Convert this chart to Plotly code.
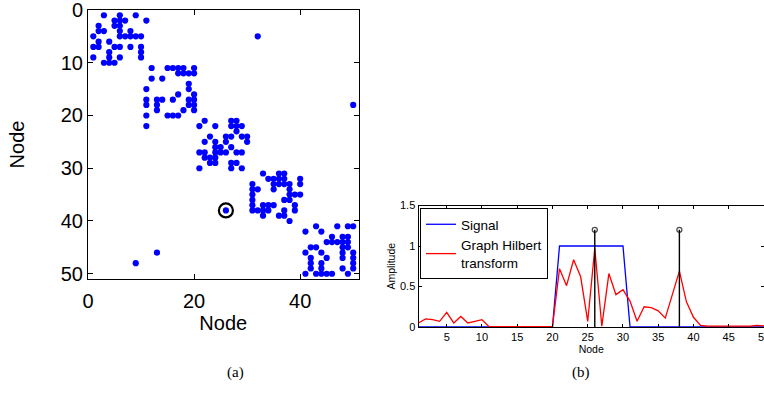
import plotly.graph_objects as go

# ---------------- data ----------------
# (a) spy plot: nonzero columns for each row 1..50 of the adjacency matrix
adj_cols_by_row = [
    [3, 6, 9],                      # 1
    [5, 6, 7, 11],                  # 2
    [2, 5, 6],                      # 3
    [2, 3, 6, 8],                   # 4
    [1, 6, 7, 8, 9, 10, 32],        # 5
    [2, 4],                         # 6
    [1, 2, 5, 6, 8, 10],            # 7
    [4, 10],                        # 8
    [1, 4, 6, 10],                  # 9
    [3, 4, 5],                      # 10
    [12, 15, 16, 17, 18, 20],       # 11
    [17, 18, 19, 20],               # 12
    [12, 14],                       # 13
    [19],                           # 14
    [11, 19],                       # 15
    [17, 20],                       # 16
    [11, 13, 14, 16, 19, 20],       # 17
    [11, 13, 19, 20, 50],           # 18
    [13, 18, 20],                   # 19
    [11, 15, 16, 17],               # 20
    [22, 27, 28],                   # 21
    [11, 21, 24, 27, 28, 29],       # 22
    [28],                           # 23
    [23, 26, 27, 29, 30],           # 24
    [22, 24, 26, 30],               # 25
    [24, 25, 27],                   # 26
    [21, 22, 24, 25, 26, 28, 29],   # 27
    [22, 23, 24],                   # 28
    [23, 24, 27, 28],               # 29
    [21, 27, 29],                   # 30
    [33, 36, 37],                   # 31
    [34, 35, 36, 37, 40],           # 32
    [31, 35, 36, 37, 38, 40],       # 33
    [31, 32, 35, 38],               # 34
    [31, 38, 39, 40],               # 35
    [31, 37, 38],                   # 36
    [31, 33, 34, 35, 39],           # 37
    [26, 31, 32, 33, 34, 37, 39],   # 38
    [33, 36, 37],                   # 39
    [38],                           # 40
    [43, 47, 49, 50],               # 41
    [41, 44],                       # 42
    [46, 48, 49],                   # 43
    [45, 46, 47, 48, 49],           # 44
    [42, 43, 48, 49],               # 45
    [13, 41, 44, 48, 50],           # 46
    [42, 45, 48, 50],               # 47
    [9, 42, 44, 50],                # 48
    [42, 44, 48, 50],               # 49
    [41, 43, 44, 45, 46, 49],       # 50
]
highlight_node = [26]
highlight_row = [38]

# (b) signal and graph Hilbert transform
nodes = list(range(1, 51))
signal = [0] * 20 + [1] * 10 + [0] * 20
hilbert = [0.05, 0.10, 0.09, 0.07, 0.18, 0.05, 0.13, 0.05, 0.07, 0.09,
           0.005, 0.005, 0.005, 0.005, 0.005, 0.005, 0.005, 0.005, 0.005, 0.005,
           0.72, 0.51, 0.83, 0.62, 0.07, 0.97, 0.01, 0.66, 0.40, 0.46,
           0.32, 0.07, 0.25, 0.24, 0.20, 0.11, 0.40, 0.69, 0.31, 0.12,
           0.02, 0.01, 0.01, 0.01, 0.015, 0.01, 0.01, 0.01, 0.02, 0.015]
stem_nodes = [26, 38]
stem_height = [1.2, 1.2]

# ---------------- figure ----------------
W, H = 764, 399
def fx(p): return p / W
def fy(p): return 1 - p / H

spy_x, spy_y = [], []
for r, cols in enumerate(adj_cols_by_row, start=1):
    for c in cols:
        spy_x.append(c)
        spy_y.append(r)

fig = go.Figure()
fig.add_trace(go.Scatter(x=spy_x, y=spy_y, mode="markers", xaxis="x", yaxis="y",
                         marker=dict(color="#0000ff", size=6.2, line=dict(width=0)),
                         showlegend=False, hoverinfo="skip"))
fig.add_trace(go.Scatter(x=highlight_node, y=highlight_row, mode="markers", xaxis="x", yaxis="y",
                         marker=dict(symbol="circle-open", size=14, color="black",
                                     line=dict(width=2.2, color="black")),
                         showlegend=False, hoverinfo="skip"))

fig.add_trace(go.Scatter(x=nodes, y=signal, mode="lines", name="Signal", xaxis="x2", yaxis="y2",
                         line=dict(color="#0000ff", width=1.3)))
fig.add_trace(go.Scatter(x=nodes, y=hilbert, mode="lines", name="Graph Hilbert<br>transform",
                         xaxis="x2", yaxis="y2", line=dict(color="#ff0000", width=1.3)))
for n, h in zip(stem_nodes, stem_height):
    fig.add_trace(go.Scatter(x=[n, n], y=[0, h], mode="lines+markers", xaxis="x2", yaxis="y2",
                             line=dict(color="black", width=1.4),
                             marker=dict(symbol="circle-open", size=[0, 5], color="black",
                                         line=dict(width=1.3, color="black")),
                             showlegend=False, hoverinfo="skip"))

font_sans = "Liberation Sans, Arial, Helvetica, sans-serif"
ax_common = dict(showline=True, linecolor="black", linewidth=1, mirror="ticks",
                 ticks="inside", tickcolor="black", showgrid=False, zeroline=False,
                 automargin=False, ticklabeloverflow="allow")

fig.update_layout(
    width=W, height=H, margin=dict(l=0, r=0, t=0, b=0, autoexpand=False),
    paper_bgcolor="white", plot_bgcolor="white",
    font=dict(family=font_sans, color="black"),
    xaxis=dict(domain=[fx(88), fx(358.5)], range=[0, 51], tickvals=[0, 20, 40],
               ticklen=5, tickfont=dict(size=20), ticklabelstandoff=4,
               title=dict(text="Node", font=dict(size=20), standoff=0),
               anchor="y", **ax_common),
    yaxis=dict(domain=[fy(279), fy(10)], range=[51, 0], tickvals=[0, 10, 20, 30, 40, 50],
               ticklen=5, tickfont=dict(size=20),
               title=dict(text="Node", font=dict(size=20), standoff=30),
               anchor="x", **ax_common),
    xaxis2=dict(domain=[fx(418.5), 1.0], range=[1, 50],
                tickvals=[5, 10, 15, 20, 25, 30, 35, 40, 45, 50],
                ticklen=3, tickfont=dict(size=11),
                title=dict(text="Node", font=dict(size=10.5), standoff=3),
                anchor="y2", **ax_common),
    yaxis2=dict(domain=[fy(327), fy(205.5)], range=[0, 1.5], tickvals=[0, 0.5, 1, 1.5],
                ticktext=["0", "0.5", "1", "1.5"], ticklen=3, tickfont=dict(size=11),
                title=dict(text="Amplitude", font=dict(size=10.5), standoff=2),
                anchor="x2", **ax_common),
    legend=dict(x=fx(420), y=fy(208), xanchor="left", yanchor="top",
                bgcolor="white", bordercolor="black", borderwidth=1,
                font=dict(size=13.5, family=font_sans), itemwidth=30,
                tracegroupgap=0, valign="middle"),
    annotations=[
        dict(text="(a)", x=fx(225), y=fy(383), xref="paper", yref="paper", showarrow=False,
             font=dict(family="Liberation Serif, Times New Roman, serif", size=15)),
        dict(text="(b)", x=fx(592), y=fy(383), xref="paper", yref="paper", showarrow=False,
             font=dict(family="Liberation Serif, Times New Roman, serif", size=15)),
    ],
)

fig.write_html("out.html")
